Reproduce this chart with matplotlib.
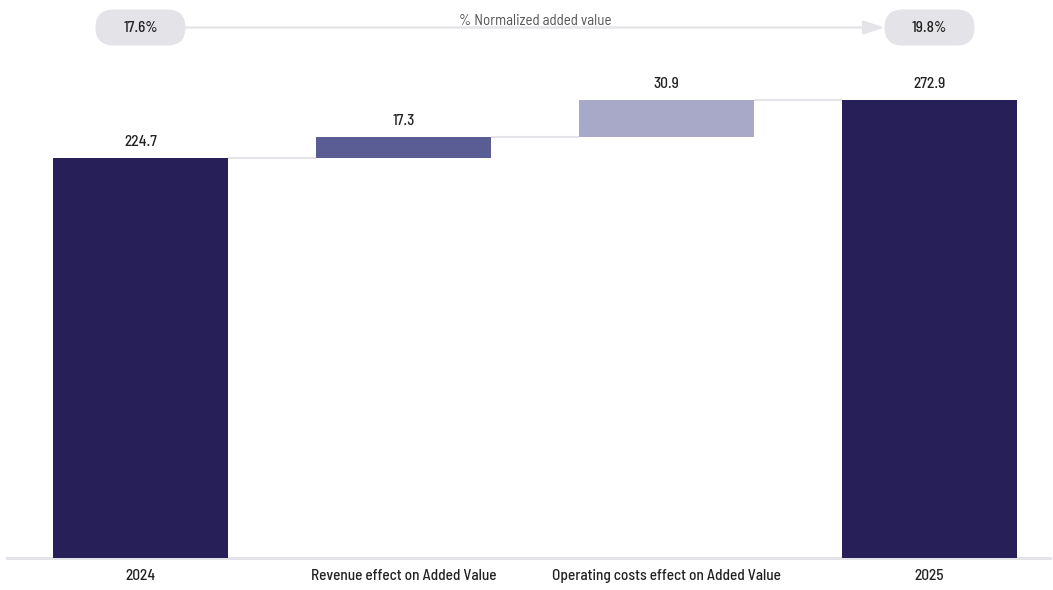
import matplotlib
matplotlib.use("Agg")
import matplotlib.pyplot as plt
from matplotlib.patches import FancyBboxPatch

plt.rcParams["font.family"] = ["Barlow Semi Condensed", "Roboto Condensed",
                               "IBM Plex Sans Condensed", "DejaVu Sans"]
plt.rcParams["font.weight"] = 500

# waterfall data
categories = ["2024", "Revenue effect on Added Value",
              "Operating costs effect on Added Value", "2025"]
values = [224.7, 17.3, 30.9, 272.9]
kinds = ["total", "delta", "delta", "total"]
ratio_start, ratio_end = "17.6%", "19.8%"
ratio_label = "% Normalized added value"

AXIS_FLOOR = -106.0   # value axis is cut, bars start here
PX_PER_UNIT = 1.21

DARK = "#271F57"
colors = [DARK, "#595D93", "#A8A8C8", DARK]
GRID = "#E3E3E8"
TEXT = "#222222"
FS = 11.0

W, H = 1053, 590
fig = plt.figure(figsize=(W / 100, H / 100), dpi=100)
bottom_px = 558.0
ax = fig.add_axes([7 / W, (H - bottom_px) / H, 1043 / W, bottom_px / H])
ax.set_xlim(-(140.5 - 7) / 263, 3 + (1050 - 929.5) / 263)
ax.set_ylim(AXIS_FLOOR, AXIS_FLOOR + bottom_px / PX_PER_UNIT)

bar_w = 0.665
xs = list(range(len(values)))
level = 0.0
tops = []
for x, v, k, c in zip(xs, values, kinds, colors):
    if k == "total":
        lo, hi = AXIS_FLOOR, v
        level = v
    else:
        lo, hi = level, level + v
        level = hi
    ax.bar(x, hi - lo, bottom=lo, width=bar_w, color=c, zorder=2)
    tops.append(hi)
    ax.annotate(f"{v:.1f}", (x, hi), xytext=(0, 6.5), textcoords="offset points",
                ha="center", va="bottom", fontsize=FS, color=TEXT)

# connectors between consecutive bars
for i in range(len(xs) - 1):
    y = tops[i]
    ax.plot([xs[i] + bar_w / 2, xs[i + 1] - bar_w / 2], [y, y],
            color=GRID, lw=1.5, zorder=1, solid_capstyle="butt")

for s in ["top", "right", "left"]:
    ax.spines[s].set_visible(False)
ax.spines["bottom"].set_color(GRID)
ax.spines["bottom"].set_linewidth(2.2)
ax.spines["bottom"].set_zorder(1)
ax.set_yticks([])
ax.set_xticks(xs)
ax.set_xticklabels(categories, fontsize=FS, color=TEXT)
ax.tick_params(axis="x", length=0, pad=8)

# ratio pills on top, placed over the first and last bars
overlay = fig.add_axes([0, 0, 1, 1], facecolor="none")
overlay.set_xlim(0, W)
overlay.set_ylim(0, H)
overlay.axis("off")

pill_w, pill_h = 90, 36
pill_y = H - 27.5
x_first = ax.transData.transform((xs[0], 0))[0]
x_last = ax.transData.transform((xs[-1], 0))[0]
for cx, label in [(x_first, ratio_start), (x_last, ratio_end)]:
    overlay.add_patch(FancyBboxPatch((cx - pill_w / 2, pill_y - pill_h / 2), pill_w, pill_h,
                                     boxstyle=f"round,pad=0,rounding_size={pill_h / 2}",
                                     fc=GRID, ec="none"))
    overlay.text(cx, pill_y - 0.5, label, ha="center", va="center", fontsize=FS, color=TEXT)

x0 = x_first + pill_w / 2
x1 = x_last - pill_w / 2
overlay.annotate("", xy=(x1, pill_y), xytext=(x0, pill_y),
                 arrowprops=dict(arrowstyle="-|>,head_length=0.43,head_width=0.14",
                                 mutation_scale=30, color=GRID, lw=1.6,
                                 shrinkA=0, shrinkB=0))
overlay.text((x0 + x1) / 2, pill_y + 2.5, ratio_label, ha="center", va="baseline",
             fontsize=10.8, fontweight="normal", color="#555555")

fig.savefig("out.png", dpi=100)
